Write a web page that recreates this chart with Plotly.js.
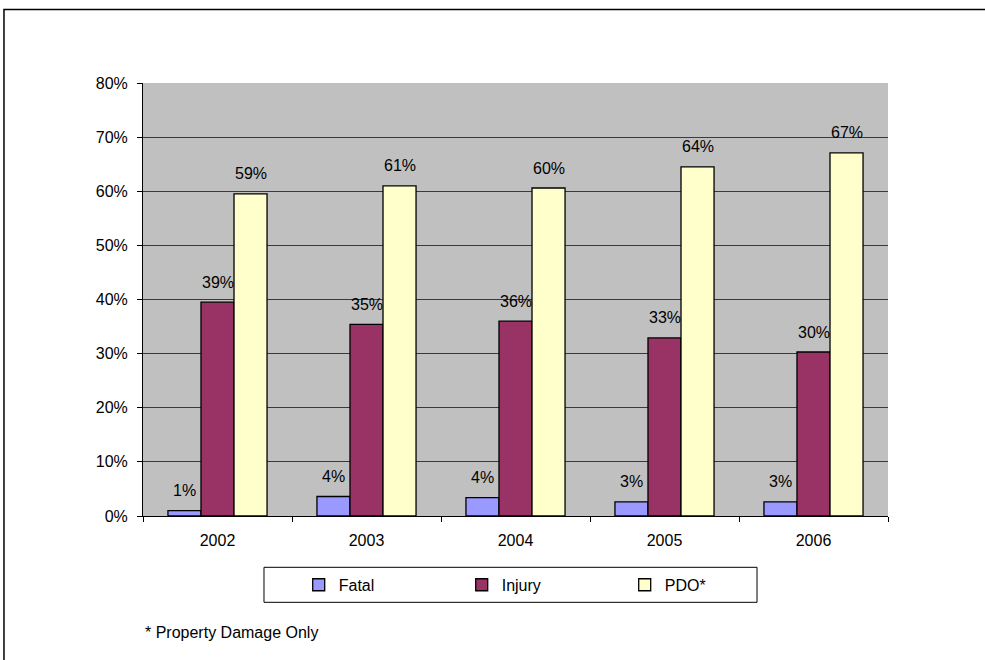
<!DOCTYPE html>
<html>
<head>
<meta charset="utf-8">
<script src="https://cdn.plot.ly/plotly-3.0.1.min.js"></script>
<style>
  html, body { margin: 0; padding: 0; background: #ffffff; }
  #chart { width: 985px; height: 660px; }
</style>
</head>
<body>
<div id="chart"></div>
<script>
// ---- data ----
var years = ['2002', '2003', '2004', '2005', '2006'];
var fatal = [1.0, 3.6, 3.4, 2.6, 2.6];
var injury = [39.5, 35.4, 36.0, 32.9, 30.3];
var pdo = [59.5, 61.0, 60.6, 64.5, 67.1];
var fatalLabels = ['1%', '4%', '4%', '3%', '3%'];
var injuryLabels = ['39%', '35%', '36%', '33%', '30%'];
var pdoLabels = ['59%', '61%', '60%', '64%', '67%'];
var seriesNames = ['Fatal', 'Injury', 'PDO*'];
var yTicks = [0, 10, 20, 30, 40, 50, 60, 70, 80];
var footnote = '* Property Damage Only';

var FONT = 'Arial, "Liberation Sans", sans-serif';
var colors = ['#9999ff', '#993366', '#ffffcc'];
var seriesVals = [fatal, injury, pdo];
var seriesLabels = [fatalLabels, injuryLabels, pdoLabels];

var traces = seriesVals.map(function (vals, i) {
  return {
    type: 'bar',
    name: seriesNames[i],
    x: years,
    y: vals,
    marker: { color: colors[i], line: { color: '#000000', width: 1.3 } },
    hoverinfo: 'skip'
  };
});

var barW = 33; // px offset between grouped bars
var annotations = [];
seriesVals.forEach(function (vals, i) {
  vals.forEach(function (v, j) {
    annotations.push({
      x: j, y: v, xref: 'x', yref: 'y',
      text: seriesLabels[i][j], showarrow: false,
      xshift: (i - 1) * barW, yshift: 20, yanchor: 'middle',
      font: { family: FONT, size: 16, color: '#000000' }
    });
  });
});
annotations.push({
  xref: 'paper', yref: 'paper', x: 0, y: -0.27,
  xanchor: 'left', yanchor: 'middle', showarrow: false,
  text: footnote, font: { family: FONT, size: 16, color: '#000000' }
});

var layout = {
  width: 985, height: 660,
  margin: { l: 143, r: 97, t: 83, b: 144, pad: 0 },
  paper_bgcolor: '#ffffff',
  plot_bgcolor: '#c0c0c0',
  font: { family: FONT, size: 16, color: '#000000' },
  barmode: 'group',
  bargap: 0.335,
  bargroupgap: 0,
  showlegend: true,
  legend: {
    orientation: 'h',
    x: 0.209, xanchor: 'left',
    y: -0.159, yanchor: 'middle',
    borderwidth: 0,
    bgcolor: 'rgba(0,0,0,0)',
    entrywidth: 118,
    itemwidth: 30,
    font: { family: FONT, size: 16, color: '#000000' }
  },
  xaxis: {
    type: 'category',
    categoryorder: 'array', categoryarray: years,
    range: [-0.5, years.length - 0.5],
    showline: true, linecolor: '#000000', linewidth: 1,
    ticks: 'outside', tickson: 'boundaries', ticklen: 5, tickcolor: '#000000',
    tickangle: 0, ticklabelstandoff: 10,
    tickfont: { family: FONT, size: 16, color: '#000000' },
    showgrid: false, zeroline: false, fixedrange: true
  },
  yaxis: {
    range: [0, 80],
    tickvals: yTicks,
    ticktext: yTicks.map(function (t) { return t + '%'; }),
    showline: true, linecolor: '#000000', linewidth: 1,
    ticks: 'outside', ticklen: 5, tickcolor: '#000000',
    ticklabelstandoff: 6,
    tickfont: { family: FONT, size: 16, color: '#000000' },
    showgrid: true, gridcolor: '#3a3a3a', gridwidth: 1,
    zeroline: false, fixedrange: true
  },
  shapes: [{
    type: 'rect', xref: 'paper', yref: 'paper',
    x0: -0.1866, x1: 1.3, y0: -0.5, y1: 1.170,
    line: { color: '#000000', width: 1.5 },
    fillcolor: 'rgba(0,0,0,0)', layer: 'above'
  }, {
    type: 'rect', xref: 'paper', yref: 'paper',
    x0: 0.1624, x1: 0.8242, y0: -0.1993, y1: -0.1185,
    line: { color: '#000000', width: 1 },
    fillcolor: '#ffffff', layer: 'below'
  }],
  annotations: annotations
};

Plotly.newPlot('chart', traces, layout, { displayModeBar: false, staticPlot: true });
</script>
</body>
</html>
